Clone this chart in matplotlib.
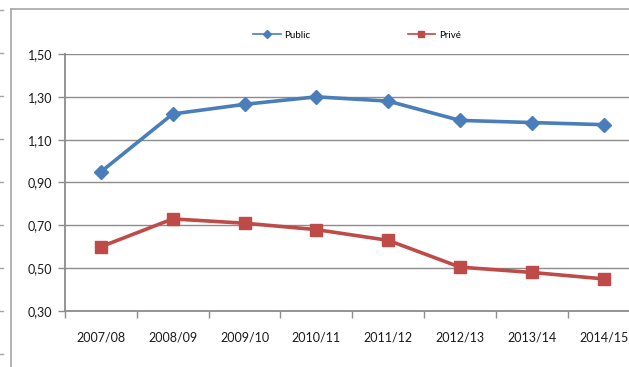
import numpy as np
import matplotlib.pyplot as plt
from matplotlib.lines import Line2D

# data
years = ['2007/08', '2008/09', '2009/10', '2010/11', '2011/12', '2012/13', '2013/14', '2014/15']
public = [0.95, 1.22, 1.265, 1.30, 1.28, 1.19, 1.18, 1.17]
prive = [0.60, 0.73, 0.71, 0.68, 0.63, 0.505, 0.48, 0.45]
yticks = [0.30, 0.50, 0.70, 0.90, 1.10, 1.30, 1.50]

plt.rcParams['font.family'] = ['Lato', 'DejaVu Sans']

W, H = 629, 367
fig = plt.figure(figsize=(W / 100, H / 100), dpi=100)
grid_col = '#8c8c8c'

# plot area (runs past the right edge, as in the cropped reference)
ax = fig.add_axes([65 / W, 56 / H, (639.5 - 65) / W, 257 / H])
x = np.arange(len(years))
ax.plot(x, public, color='#4a7ebb', lw=2.6, marker='D', ms=7.5, label='Public', zorder=3)
ax.plot(x, prive, color='#be4b48', lw=2.6, marker='s', ms=8, label='Privé', zorder=3)

ax.set_xlim(-0.5, len(years) - 0.5)
ax.set_ylim(0.30, 1.50)
ax.set_yticks(yticks)
ax.set_yticklabels([f'{v:.2f}'.replace('.', ',') for v in yticks], fontsize=9, color='#1a1a1a')
ax.set_xticks(x)
ax.set_xticklabels(years, fontsize=9, color='#1a1a1a')
ax.set_xticks(np.arange(-0.5, len(years)), minor=True)
ax.tick_params(axis='x', which='major', length=0, pad=15)
ax.tick_params(axis='x', which='minor', length=5, color=grid_col, width=1)
ax.tick_params(axis='y', length=5, color=grid_col, width=1, pad=4)
ax.grid(axis='y', color=grid_col, lw=1)
ax.set_axisbelow(True)
for s in ['top', 'right']:
    ax.spines[s].set_visible(False)
for s in ['left', 'bottom']:
    ax.spines[s].set_color(grid_col)
    ax.spines[s].set_linewidth(1.3)

# legend on top
handles = [Line2D([], [], color='#4a7ebb', lw=1.2, marker='D', ms=4),
           Line2D([], [], color='#be4b48', lw=1.2, marker='s', ms=4.5)]
fig.legend(handles, ['Public', 'Privé'], loc='center', bbox_to_anchor=(357 / W, 1 - 35 / H),
           ncol=2, frameon=False, fontsize=7, handlelength=2.8, handletextpad=0.4,
           columnspacing=10)

# outer chart frame (cropped)
frame_col = '#a6a6a6'
fig.add_artist(Line2D([11 / W, 11 / W], [0, 1 - 9 / H], color=frame_col, lw=1.2))
fig.add_artist(Line2D([11 / W, 1], [1 - 9 / H, 1 - 9 / H], color=frame_col, lw=1.2))
for k in range(9):
    yy = 1 - (10 + 43 * k) / H
    fig.add_artist(Line2D([0, 3 / W], [yy, yy], color=frame_col, lw=1))

fig.savefig('out.png', dpi=100)
